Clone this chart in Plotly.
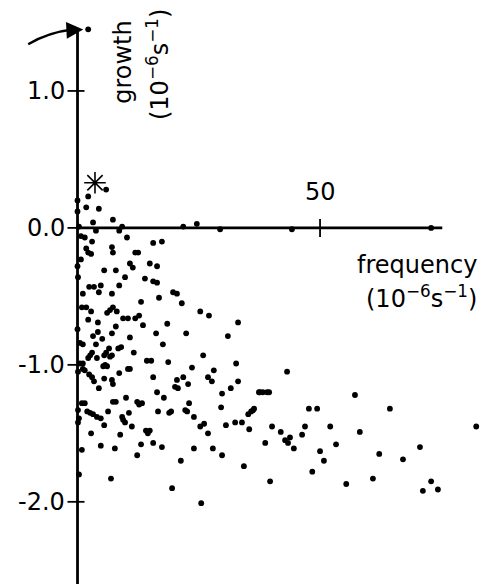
import plotly.graph_objects as go

# ---- data (frequency in 1e-6 s^-1, growth in 1e-6 s^-1) ----
freq = [2.2, 5.9, 0.0, 1.8, 4.4, 0.0, 3.2, 7.3, 0.3, 3.8, 8.6, 9.2, 21.8, 24.6, 29.4,
        0.7, 1.5, 10.2, 3.0, 15.6, 17.4, 7.1, 7.3, 1.8, 2.2, 2.8, 11.9, 12.5, 0.7, 0.0,
        14.9, 10.8, 11.4, 16.4, 5.5, 7.9, 0.1, 9.8, 13.9, 15.6, 16.4, 8.6, 2.4, 3.4, 4.8,
        4.4, 1.1, 7.1, 19.7, 20.5, 16.8, 13.1, 21.5, 0.9, 1.8, 7.3, 6.7, 6.1, 2.8, 8.1,
        25.3, 27.1, 12.7, 11.9, 10.4, 9.4, 2.2, 4.2, 7.9, 13.5, 18.5, 33.1, 0.0, 4.2, 3.2,
        7.1, 10.8, 16.2, 22.4, 31.0, 5.1, 0.5, 1.1, 3.8, 17.6, 9.0, 6.5, 8.4, 5.9, 5.5,
        3.0, 2.6, 2.2, 11.6, 4.0, 6.7, 7.1, 14.3, 15.2, 18.7, 25.9, 32.7, 0.5, 1.1, 0.1,
        5.7, 6.1, 5.3, 10.8, 10.4, 8.6, 1.1, 1.5, 2.4, 3.0, 3.4, 4.4, 5.5, 7.1, 7.3,
        15.6, 20.5, 20.1, 20.7, 21.8, 23.6, 22.8, 26.9, 27.7, 28.1, 33.1, 31.6, 16.4, 17.8, 37.4,
        7.3, 7.9, 10.0, 12.3, 12.7, 13.3, 23.0, 29.8, 29.6, 0.9, 1.5, 0.1, 2.0, 2.6, 3.2,
        4.0, 4.8, 6.3, 10.6, 9.2, 9.4, 16.6, 18.9, 19.3, 22.2, 22.6, 24.0, 36.2, 35.8, 35.2,
        0.3, 0.1, 9.8, 5.5, 11.2, 26.1, 25.3, 30.6, 32.5, 33.9, 35.4, 14.1, 14.5, 14.9, 2.8,
        8.8, 26.9, 15.6, 17.4, 13.1, 4.8, 7.7, 12.3, 0.9, 24.0, 27.9, 29.8, 21.3, 34.3, 0.3,
        6.9, 19.5, 25.5, 43.2, 37.6, 38.2, 39.1, 39.5, 57.2, 36.4, 47.7, 49.4, 64.4, 40.1, 41.9,
        43.8, 42.8, 43.4, 44.6, 46.3, 46.9, 52.1, 58.2, 38.7, 53.3, 50.0, 50.8, 48.4, 62.2, 67.1,
        70.6, 39.7, 55.4, 60.9, 72.9, 71.2, 74.3, 82.2, 44.2, 72.9]
growth = [0.23, 0.28, 0.20, 0.15, 0.14, 0.12, 0.04, 0.06, 0.01, -0.02, -0.02, 0.01, 0.01, 0.03, -0.01,
          -0.06, -0.07, -0.07, -0.10, -0.11, -0.10, -0.14, -0.18, -0.15, -0.18, -0.19, -0.18, -0.18, -0.23, -0.28,
          -0.26, -0.26, -0.29, -0.28, -0.31, -0.31, -0.36, -0.36, -0.37, -0.39, -0.40, -0.42, -0.43, -0.43, -0.42,
          -0.47, -0.48, -0.48, -0.47, -0.48, -0.51, -0.54, -0.55, -0.58, -0.58, -0.58, -0.60, -0.62, -0.61, -0.61,
          -0.61, -0.64, -0.64, -0.66, -0.66, -0.66, -0.67, -0.69, -0.72, -0.71, -0.70, -0.69, -0.74, -0.76, -0.79,
          -0.77, -0.80, -0.77, -0.77, -0.79, -0.81, -0.84, -0.85, -0.85, -0.85, -0.87, -0.88, -0.88, -0.91, -0.93,
          -0.91, -0.93, -0.95, -0.91, -0.95, -0.94, -0.93, -0.97, -0.97, -0.98, -0.93, -0.99, -0.99, -0.99, -1.05,
          -1.00, -1.01, -1.01, -1.03, -1.03, -1.06, -1.03, -1.04, -1.07, -1.09, -1.12, -1.17, -1.10, -1.11, -1.14,
          -1.09, -1.11, -1.16, -1.17, -1.09, -1.02, -1.14, -1.09, -1.12, -1.04, -1.12, -1.17, -1.20, -1.24, -1.20,
          -1.27, -1.27, -1.24, -1.27, -1.29, -1.28, -1.28, -1.21, -1.31, -1.28, -1.28, -1.33, -1.34, -1.35, -1.36,
          -1.38, -1.39, -1.34, -1.35, -1.38, -1.40, -1.34, -1.35, -1.34, -1.33, -1.34, -1.38, -1.33, -1.34, -1.36,
          -1.39, -1.42, -1.42, -1.44, -1.45, -1.43, -1.45, -1.44, -1.42, -1.42, -1.47, -1.48, -1.50, -1.48, -1.50,
          -1.51, -1.50, -1.57, -1.60, -1.58, -1.59, -1.61, -1.66, -1.62, -1.61, -1.61, -1.66, -1.70, -1.74, -1.80,
          -1.83, -1.90, -2.01, -1.05, -1.20, -1.20, -1.20, -1.20, -1.22, -1.32, -1.32, -1.32, -1.32, -1.45, -1.49,
          -1.53, -1.55, -1.57, -1.61, -1.51, -1.45, -1.45, -1.49, -1.57, -1.58, -1.63, -1.70, -1.78, -1.65, -1.69,
          -1.60, -1.85, -1.87, -1.83, -1.85, -1.92, -1.91, -1.45, -0.01, 0.00]

outlier_freq = [2.2]
outlier_growth = [1.45]
star_freq = [3.6]
star_growth = [0.33]

y_ticks = [1.0, 0.0, -1.0, -2.0]
y_tick_labels = ["1.0", "0.0", "-1.0", "-2.0"]
x_ticks = [50]
x_tick_labels = ["50"]

x_range = [-15.98, 83.8]
y_range = [-2.6, 1.664]
x_axis_end = 75.2

FONT = "DejaVu Sans"
fs = 24

fig = go.Figure()
fig.add_trace(go.Scatter(x=freq, y=growth, mode="markers",
                         marker=dict(color="black", size=5.8), cliponaxis=False))
fig.add_trace(go.Scatter(x=outlier_freq, y=outlier_growth, mode="markers",
                         marker=dict(color="black", size=5.8), cliponaxis=False))
fig.add_trace(go.Scatter(x=star_freq, y=star_growth, mode="markers",
                         marker=dict(symbol="asterisk-open", color="black", size=18,
                                     line=dict(color="black", width=1.6)),
                         cliponaxis=False))

shapes = []
# axes
shapes.append(dict(type="line", xref="x", yref="y", x0=0, x1=0,
                   y0=outlier_growth[0], y1=y_range[0], line=dict(color="black", width=2.8)))
shapes.append(dict(type="line", xref="x", yref="y", x0=0, x1=x_axis_end,
                   y0=0, y1=0, line=dict(color="black", width=2.8)))
# y ticks (crossing)
for v in y_ticks:
    shapes.append(dict(type="line", xref="x", yref="y", xsizemode="pixel", xanchor=0,
                       x0=-10, x1=7, y0=v, y1=v, line=dict(color="black", width=1.8)))
for v in x_ticks:
    shapes.append(dict(type="line", xref="x", yref="y", ysizemode="pixel", yanchor=0,
                       y0=-9, y1=9, x0=v, x1=v, line=dict(color="black", width=1.8)))
# curved arrow body (pixels relative to outlier point)
shapes.append(dict(type="path", xref="x", yref="y", xsizemode="pixel", ysizemode="pixel",
                   xanchor=outlier_freq[0], yanchor=outlier_growth[0],
                   path="M -60,-15 Q -40,-3 -14,0", line=dict(color="black", width=2.4)))

annotations = []
for v, t in zip(y_ticks, y_tick_labels):
    annotations.append(dict(x=0, y=v, xref="x", yref="y", text=t, showarrow=False,
                            xanchor="right", yanchor="middle", xshift=-11,
                            font=dict(family=FONT, size=fs, color="black")))
for v, t in zip(x_ticks, x_tick_labels):
    annotations.append(dict(x=v, y=0, xref="x", yref="y", text=t, showarrow=False,
                            xanchor="center", yanchor="bottom", yshift=20,
                            font=dict(family=FONT, size=fs, color="black")))
# arrow head
annotations.append(dict(x=outlier_freq[0], y=outlier_growth[0], xref="x", yref="y",
                        text="", showarrow=True, ax=-20, ay=1, standoff=5,
                        arrowhead=2, arrowsize=1.4, arrowwidth=2.4, arrowcolor="black"))
unit = "(10<sup>−6</sup>s<sup>−1</sup>)"
annotations += [
    dict(x=0.862, y=0.546, xref="paper", yref="paper", text="frequency", showarrow=False,
         xanchor="center", yanchor="middle", font=dict(family=FONT, size=fs, color="black")),
    dict(x=0.870, y=0.491, xref="paper", yref="paper", text=unit, showarrow=False,
         xanchor="center", yanchor="middle", font=dict(family=FONT, size=fs, color="black")),
    dict(x=0.254, y=0.894, xref="paper", yref="paper", text="growth", showarrow=False,
         textangle=-90, xanchor="center", yanchor="middle",
         font=dict(family=FONT, size=fs, color="black")),
    dict(x=0.326, y=0.890, xref="paper", yref="paper", text=unit, showarrow=False,
         textangle=-90, xanchor="center", yanchor="middle",
         font=dict(family=FONT, size=fs, color="black")),
]

fig.update_layout(
    width=484, height=584, margin=dict(l=0, r=0, t=0, b=0),
    paper_bgcolor="white", plot_bgcolor="white", showlegend=False,
    xaxis=dict(range=x_range, visible=False, fixedrange=True),
    yaxis=dict(range=y_range, visible=False, fixedrange=True),
    shapes=shapes, annotations=annotations,
)
fig.write_html("out.html")
